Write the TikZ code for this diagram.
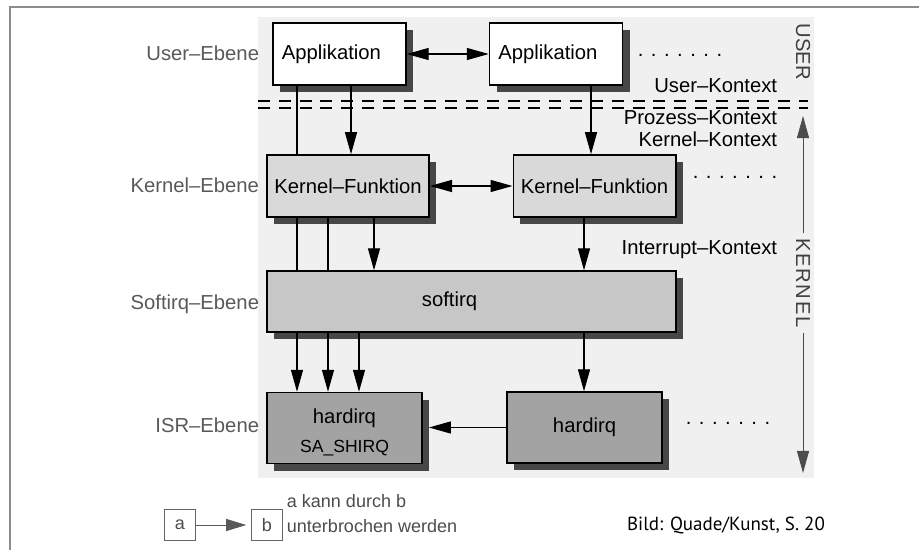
\documentclass[tikz,border=0pt]{standalone}
\usepackage{fontspec}
\setmainfont{Liberation Sans}
\newfontfamily\bildfont{PT Sans}
\usetikzlibrary{arrows.meta,shadows}
\definecolor{scan}{gray}{0.94}
\definecolor{rahmen}{gray}{0.55}
\definecolor{ebenengrau}{gray}{0.35}
\tikzset{
  every node/.style={
    font=\fontsize{14.4}{17}\selectfont
  },
  box/.style={draw, line width=1.1pt, inner sep=0pt,
    drop shadow={shadow xshift=0.18cm, shadow yshift=-0.18cm, fill=black!72, opacity=1}},
  appbox/.style={box, fill=white, minimum height=1.55cm, text width=2.88cm, align=left, inner xsep=0.22cm},
  kernbox/.style={box, fill=black!15, minimum width=4.06cm, minimum height=1.55cm},
  softbox/.style={box, fill=black!22, minimum width=10.22cm, minimum height=1.52cm},
  hardbox/.style={box, fill=black!36, minimum width=3.88cm, minimum height=1.77cm},
  ebene/.style={anchor=base east, text=ebenengrau},
  kontext/.style={anchor=base east},
  seite/.style={rotate=-90, text=black!75},
  pfeil/.style={->, line width=0.9pt},
  doppelpfeil/.style={<->, line width=0.9pt},
  linie/.style={line width=0.9pt},
  trenn/.style={line width=0.9pt, dash pattern=on 0.3cm off 0.22cm},
  seitenpfeil/.style={->, line width=0.6pt, black!70},
  legbox/.style={draw=black!60, line width=0.5pt, text=black!70, minimum size=0.78cm,
    font=\fontsize{12.8}{15}\selectfont},
  legtext/.style={text=black!70, align=left, font=\fontsize{12.8}{17.8}\selectfont}
}

\begin{document}
\begin{tikzpicture}[x=0.025cm, y=-0.025cm, >={Triangle[length=0.55cm,width=0.3cm]}]
    \useasboundingbox (0,0) rectangle (919,550);
    \draw[rahmen, line width=1.5pt] (10,550) -- (10,7) -- (919,7);
    \fill[scan] (258,17) rectangle (814,478);
    \draw[trenn] (258,101) -- (808,101);
    \draw[trenn] (258,108) -- (808,108);

    \node[appbox] (app1) at (339.5,54) {Applikation};
    \node[appbox] (app2) at (556,54) {Applikation};
    \node[kernbox] (kern1) at (348,186) {Kernel–Funktion};
    \node[kernbox] (kern2) at (594.5,186) {Kernel–Funktion};
    \node[softbox, label={[xshift=-0.55cm]center:softirq}] (soft) at (471.5,301.5) {};
    \node[hardbox, label={[yshift=0.25cm]center:hardirq},
      label={[yshift=-0.5cm, font=\fontsize{12.5}{15}\selectfont]center:SA\_SHIRQ}] (hard1) at (344.5,428) {};
    \node[hardbox] (hard2) at (584.5,427.5) {hardirq};

    \node[ebene] (userebene) at (264,61) {User–Ebene};
    \node[ebene] (kernelebene) at (264,193) {Kernel–Ebene};
    \node[ebene] (softebene) at (264,309) {Softirq–Ebene};
    \node[ebene] (isrebene) at (264,432) {ISR–Ebene};

    \node[kontext] (ukontext) at (782,93) {User–Kontext};
    \node[kontext] (pkontext) at (782,125) {Prozess–Kontext};
    \node[kontext] (kkontext) at (782,147) {Kernel–Kontext};
    \node[kontext] (ikontext) at (782,255) {Interrupt–Kontext};

    \node (udots) at (680,55) {. . . . . . .};
    \node (kdots) at (735,177) {. . . . . . .};
    \node (hdots) at (728,423) {. . . . . . .};

    \node[seite] (user) at (803,52) {USER};
    \node[seite] (kernel) at (803,283) {\addfontfeature{LetterSpace=8}KERNEL};
    \coordinate (kopf) at (803,116);
    \coordinate (fuss) at (803,473);
    \draw[seitenpfeil] (kernel.west) -- (kopf);
    \draw[seitenpfeil] (kernel.east) -- (fuss);

    \coordinate (c1) at (297,0);
    \coordinate (c2) at (328,0);
    \coordinate (c3) at (359,0);
    \coordinate (c4) at (351,0);
    \coordinate (c5) at (374,0);
    \coordinate (c6) at (591,0);
    \coordinate (c7) at (584,0);

    \draw[doppelpfeil] (app1.east) -- (app2.west);
    \draw[doppelpfeil] (kern1.east) -- (kern2.west);
    \draw[linie] (app1.south -| c1) -- (kern1.north -| c1);
    \draw[pfeil] (app1.south -| c4) -- (kern1.north -| c4);
    \draw[pfeil] (app2.south -| c6) -- (kern2.north -| c6);
    \draw[linie] (kern1.south -| c1) -- (soft.north -| c1);
    \draw[linie] (kern1.south -| c2) -- (soft.north -| c2);
    \draw[pfeil] (kern1.south -| c5) -- (soft.north -| c5);
    \draw[pfeil] (kern2.south -| c7) -- (soft.north -| c7);
    \foreach \c in {c1,c2,c3}
        \draw[pfeil] (soft.south -| \c) -- (hard1.north -| \c);
    \draw[pfeil] (soft.south -| c7) -- (hard2.north -| c7);
    \draw[pfeil] (hard2.west) -- ([xshift=0.15cm]hard1.east |- hard2.west);

    \node[legbox] (a) at (180,525) {a};
    \node[legbox] (b) at (267,525) {b};
    \draw[->, black!65, line width=0.6pt, >={Triangle[length=0.5cm,width=0.3cm]}, shorten >=0.12cm] (a) -- (b);
    \node[legtext, anchor=west] (erkl) at (282,513.5) {a kann durch b\\unterbrochen werden};
    \node[font=\bildfont\fontsize{13.5}{16}\selectfont] (quelle) at (726,525) {Bild: Quade/Kunst, S. 20};
\end{tikzpicture}
\end{document}
